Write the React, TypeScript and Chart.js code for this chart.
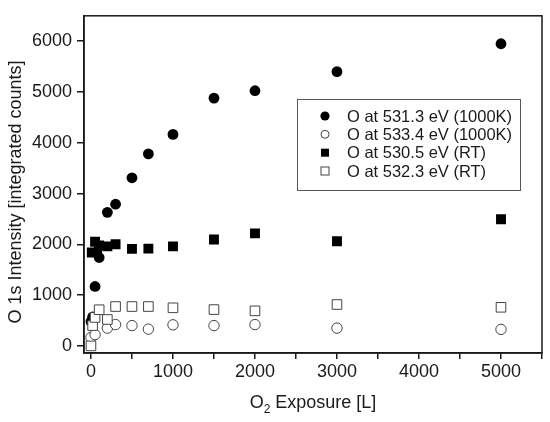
import React, { useEffect, useRef } from "react";
import { Chart, registerables } from "chart.js";

Chart.register(...registerables);

// O at 531.3 eV (1000K) – filled circles
const hotPeakAX = [0, 20, 50, 70, 100, 200, 300, 500, 700, 1000, 1500, 2000, 3000, 5000];
const hotPeakAY = [480, 570, 1170, 1850, 1740, 2630, 2790, 3310, 3780, 4165, 4880, 5025, 5400, 5950];
// O at 533.4 eV (1000K) – open circles
const hotPeakBX = [0, 50, 200, 300, 500, 700, 1000, 1500, 2000, 3000, 5000];
const hotPeakBY = [165, 222, 350, 420, 400, 330, 415, 400, 420, 350, 325];
// O at 530.5 eV (RT) – filled squares
const rtPeakAX = [10, 50, 100, 200, 300, 500, 700, 1000, 1500, 2000, 3000, 5000];
const rtPeakAY = [1840, 2050, 1980, 1960, 2000, 1910, 1915, 1960, 2095, 2215, 2060, 2495];
// O at 532.3 eV (RT) – open squares
const rtPeakBX = [0, 20, 50, 100, 200, 300, 500, 700, 1000, 1500, 2000, 3000, 5000];
const rtPeakBY = [0, 400, 560, 712, 520, 775, 775, 775, 750, 715, 690, 815, 760];

// axis ticks
const xTickValues = [0, 500, 1000, 1500, 2000, 2500, 3000, 3500, 4000, 4500, 5000, 5500];
const xTickLabels = ["0", "", "1000", "", "2000", "", "3000", "", "4000", "", "5000", ""];
const yTickValues = [0, 1000, 2000, 3000, 4000, 5000, 6000];
const yTickLabels = ["0", "1000", "2000", "3000", "4000", "5000", "6000"];

const seriesLabels = [
  "O at 531.3 eV (1000K)",
  "O at 533.4 eV (1000K)",
  "O at 530.5 eV (RT)",
  "O at 532.3 eV (RT)",
];
const yTitle = "O 1s Intensity [integrated counts]";
const xTitleMain = "O";
const xTitleSub = "2";
const xTitleRest = " Exposure [L]";

const FONT = "'Liberation Sans', Arial, sans-serif";
const INK = "#1a1a1a";
const OPEN_STROKE = "#444";

function zip(xs: number[], ys: number[]) {
  return xs.map((x, i) => ({ x, y: ys[i] }));
}

const decorPlugin = {
  id: "decor",
  afterDraw(chart: any) {
    const { ctx, chartArea } = chart;
    const { left, top, right, bottom } = chartArea;
    ctx.save();
    // frame
    ctx.strokeStyle = INK;
    ctx.lineWidth = 1.5;
    ctx.strokeRect(left, top, right - left, bottom - top);

    // y title
    ctx.save();
    ctx.translate(16, 192);
    ctx.rotate(-Math.PI / 2);
    ctx.fillStyle = INK;
    ctx.font = `18px ${FONT}`;
    ctx.textAlign = "center";
    ctx.textBaseline = "middle";
    ctx.fillText(yTitle, 0, 0);
    ctx.restore();

    // x title with subscript
    ctx.fillStyle = INK;
    ctx.textBaseline = "alphabetic";
    ctx.textAlign = "left";
    const bigFont = `18px ${FONT}`;
    const smallFont = `12px ${FONT}`;
    ctx.font = bigFont;
    const wMain = ctx.measureText(xTitleMain).width;
    const wRest = ctx.measureText(xTitleRest).width;
    ctx.font = smallFont;
    const wSub = ctx.measureText(xTitleSub).width;
    const total = wMain + wSub + wRest;
    let x = 313 - total / 2;
    const baseY = 408;
    ctx.font = bigFont;
    ctx.fillText(xTitleMain, x, baseY);
    x += wMain;
    ctx.font = smallFont;
    ctx.fillText(xTitleSub, x, baseY + 5);
    x += wSub;
    ctx.font = bigFont;
    ctx.fillText(xTitleRest, x, baseY);

    // legend
    const bx = 297, by = 99, bw = 223, bh = 91;
    ctx.fillStyle = "#fff";
    ctx.fillRect(bx, by, bw, bh);
    ctx.strokeStyle = "#555";
    ctx.lineWidth = 1;
    ctx.strokeRect(bx + 0.5, by + 0.5, bw, bh);
    const rows = [116, 134.3, 152.7, 171];
    const mx = 325;
    ctx.font = `16.5px ${FONT}`;
    ctx.textBaseline = "middle";
    rows.forEach((ry, i) => {
      ctx.beginPath();
      if (i === 0) {
        ctx.arc(mx, ry, 4.6, 0, Math.PI * 2);
        ctx.fillStyle = "#000";
        ctx.fill();
      } else if (i === 1) {
        ctx.arc(mx, ry, 4, 0, Math.PI * 2);
        ctx.fillStyle = "#fff";
        ctx.fill();
        ctx.strokeStyle = OPEN_STROKE;
        ctx.lineWidth = 1;
        ctx.stroke();
      } else if (i === 2) {
        ctx.fillStyle = "#000";
        ctx.fillRect(mx - 4, ry - 4, 8, 8);
      } else {
        ctx.fillStyle = "#fff";
        ctx.fillRect(mx - 4, ry - 4, 8, 8);
        ctx.strokeStyle = OPEN_STROKE;
        ctx.lineWidth = 1;
        ctx.strokeRect(mx - 4, ry - 4, 8, 8);
      }
      ctx.fillStyle = INK;
      ctx.fillText(seriesLabels[i], 347, ry + 1);
    });
    ctx.restore();
  },
};

export default function App() {
  const ref = useRef<HTMLCanvasElement | null>(null);

  useEffect(() => {
    if (!ref.current) return;
    const chart = new Chart(ref.current, {
      type: "scatter",
      data: {
        datasets: [
          {
            label: seriesLabels[0],
            data: zip(hotPeakAX, hotPeakAY),
            pointStyle: "circle",
            pointRadius: 5.4,
            backgroundColor: "#000",
            borderColor: "#000",
            borderWidth: 0,
            order: 3,
          },
          {
            label: seriesLabels[1],
            data: zip(hotPeakBX, hotPeakBY),
            pointStyle: "circle",
            pointRadius: 5.2,
            backgroundColor: "#fff",
            borderColor: OPEN_STROKE,
            borderWidth: 1,
            order: 2,
          },
          {
            label: seriesLabels[2],
            data: zip(rtPeakAX, rtPeakAY),
            pointStyle: "rect",
            pointRadius: 7,
            backgroundColor: "#000",
            borderColor: "#000",
            borderWidth: 0,
            order: 1,
          },
          {
            label: seriesLabels[3],
            data: zip(rtPeakBX, rtPeakBY),
            pointStyle: "rect",
            pointRadius: 6.8,
            backgroundColor: "#fff",
            borderColor: OPEN_STROKE,
            borderWidth: 1,
            order: 0,
          },
        ],
      },
      options: {
        animation: false,
        responsive: true,
        maintainAspectRatio: false,
        layout: { padding: { top: 12, right: 8, left: 0, bottom: 0 } },
        plugins: {
          legend: { display: false },
          tooltip: { enabled: false },
        },
        scales: {
          x: {
            type: "linear",
            min: -85,
            max: 5500,
            afterBuildTicks: (s: any) => {
              s.ticks = xTickValues.map((v) => ({ value: v }));
            },
            afterFit: (s: any) => {
              s.height = 69;
            },
            ticks: {
              autoSkip: false,
              maxRotation: 0,
              padding: 2,
              color: INK,
              font: { size: 18, family: FONT },
              callback: (_v: any, i: number) => xTickLabels[i],
            },
            grid: {
              display: true,
              drawOnChartArea: false,
              drawTicks: true,
              tickLength: 6,
              color: INK,
              lineWidth: 1.5,
            },
            border: { display: true, color: INK, width: 1.5 },
          },
          y: {
            type: "linear",
            min: -140,
            max: 6500,
            afterBuildTicks: (s: any) => {
              s.ticks = yTickValues.map((v) => ({ value: v }));
            },
            afterFit: (s: any) => {
              s.width = 84;
            },
            ticks: {
              autoSkip: false,
              padding: 5,
              color: INK,
              font: { size: 18, family: FONT },
              callback: (_v: any, i: number) => yTickLabels[i],
            },
            grid: {
              display: true,
              drawOnChartArea: false,
              drawTicks: true,
              tickLength: 7,
              color: INK,
              lineWidth: 1.5,
            },
            border: { display: true, color: INK, width: 1.5 },
          },
        },
      },
      plugins: [decorPlugin],
    });
    return () => chart.destroy();
  }, []);

  return (
    <div style={{ position: "fixed", left: 0, top: 0, width: 550, height: 422, background: "#fff" }}>
      <canvas ref={ref} />
    </div>
  );
}
